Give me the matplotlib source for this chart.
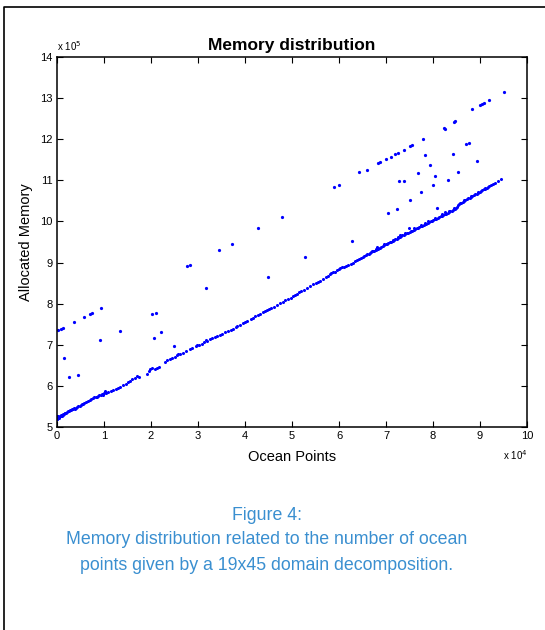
import numpy as np
import matplotlib.pyplot as plt
from matplotlib.lines import Line2D

plt.rcParams['font.family'] = ['Liberation Sans', 'DejaVu Sans']

# ocean points in units of 1e4, allocated memory in units of 1e5
low_x = [0.00, 0.00, 0.00, 0.01, 0.01, 0.02, 0.03, 0.04, 0.05, 0.06, 0.08, 0.09, 0.10, 0.12, 0.13,
         0.15, 0.17, 0.18, 0.20, 0.22, 0.24, 0.26, 0.28, 0.30, 0.32, 0.34, 0.36, 0.38, 0.40,
         0.43, 0.45, 0.48, 0.50, 0.53, 0.56, 0.58,
         0.62, 0.66, 0.70, 0.73, 0.76, 0.79, 0.82, 0.85, 0.88, 0.90, 0.93, 0.95, 0.97, 1.00,
         1.02, 1.03, 1.05, 1.08,
         1.14, 1.20, 1.25, 1.30, 1.34, 1.40, 1.46, 1.52, 1.55, 1.60, 1.66, 1.70, 1.75, 1.92,
         1.95, 1.98, 2.03, 2.08, 2.12, 2.16, 2.30, 2.35, 2.40, 2.45, 2.50, 2.55, 2.58, 2.62,
         2.68, 2.75, 2.82, 2.88, 2.95, 2.98, 3.02, 3.08, 3.12, 3.17, 3.20, 3.26, 3.30, 3.36,
         3.41, 3.46, 3.52, 3.58, 3.64, 3.70, 3.74, 3.80, 3.84, 3.90, 3.96, 4.00, 4.05, 4.12,
         4.17, 4.22, 4.27, 4.32, 4.38, 4.42, 4.46, 4.50, 4.56, 4.62, 4.68, 4.74, 4.80, 4.86,
         4.92, 4.97, 5.02, 5.06, 5.10, 5.15, 5.20, 5.26, 5.32, 5.38, 5.44, 5.50, 5.55, 5.60,
         5.66, 5.72, 5.76, 5.80, 5.84, 5.88, 5.92, 5.96, 6.00, 6.02, 6.06, 6.10, 6.15, 6.20,
         6.25, 6.30, 6.34, 6.38, 6.42, 6.46, 6.50, 6.80, 6.84, 6.78,
         6.54, 6.57, 6.60, 6.63, 6.66, 6.69, 6.72, 6.75, 6.78, 6.81, 6.84, 6.87, 6.90, 6.93,
         6.96, 6.99, 7.02, 7.05, 7.08, 7.11, 7.14, 7.17, 7.20, 7.23, 7.26, 7.29, 7.32, 7.35,
         7.38, 7.41, 7.44, 7.47, 7.50, 7.53, 7.56, 7.59, 7.62, 7.65, 7.68, 7.71, 7.74, 7.77,
         7.80, 7.83, 7.86, 7.89, 7.92, 7.95, 7.98, 8.01, 8.04, 8.07, 8.10, 8.13, 8.16, 8.19,
         8.22, 8.25, 8.28, 8.31, 8.34, 8.37, 8.40, 8.43, 8.46, 8.49, 8.51, 8.53, 8.55, 8.57,
         8.60, 8.63, 8.66, 8.69, 8.72, 8.75, 8.78, 8.81, 8.84, 8.87, 8.90, 8.93, 8.96, 8.99,
         9.02, 9.05, 9.08, 9.11, 9.14, 9.17, 9.20, 9.24, 9.28, 9.32, 9.38, 9.45,
         6.70, 6.95, 7.15, 7.25, 7.40, 7.60, 7.75, 7.90, 8.05, 8.20, 8.35, 8.45, 8.65, 8.80,
         8.95, 9.10, 7.48, 7.83, 8.26, 7.30]
low_y = [5.21, 5.19, 5.27, 5.24, 5.20, 5.22, 5.26, 5.23, 5.25, 5.27, 5.26, 5.29, 5.28, 5.30, 5.31,
         5.32, 5.33, 5.35, 5.34, 5.36, 5.38, 5.39, 5.41, 5.42, 5.43, 5.44, 5.46, 5.45, 5.47,
         5.49, 5.50, 5.51, 5.53, 5.55, 5.57, 5.58,
         5.60, 5.63, 5.65, 5.67, 5.70, 5.72, 5.73, 5.74, 5.76, 5.77, 5.78, 5.80, 5.79, 5.82,
         5.84, 5.87, 5.82, 5.85,
         5.87, 5.90, 5.93, 5.96, 5.98, 6.02, 6.05, 6.10, 6.12, 6.17, 6.20, 6.25, 6.22, 6.30,
         6.37, 6.40, 6.44, 6.42, 6.43, 6.46, 6.58, 6.62, 6.66, 6.69, 6.71, 6.74, 6.78, 6.77,
         6.81, 6.86, 6.89, 6.93, 6.96, 6.99, 7.00, 7.03, 7.06, 7.12, 7.10, 7.13, 7.16, 7.19,
         7.21, 7.24, 7.27, 7.31, 7.34, 7.37, 7.39, 7.44, 7.46, 7.48, 7.54, 7.56, 7.59, 7.62,
         7.66, 7.70, 7.73, 7.75, 7.80, 7.82, 7.84, 7.86, 7.89, 7.93, 7.97, 8.01, 8.04, 8.08,
         8.11, 8.13, 8.18, 8.20, 8.24, 8.28, 8.31, 8.34, 8.38, 8.42, 8.47, 8.50, 8.53, 8.56,
         8.61, 8.65, 8.68, 8.71, 8.74, 8.77, 8.78, 8.82, 8.84, 8.87, 8.89, 8.90, 8.92, 8.95,
         8.97, 9.00, 9.03, 9.06, 9.08, 9.11, 9.14, 9.38, 9.36, 9.33,
         9.17, 9.18, 9.20, 9.22, 9.24, 9.25, 9.27, 9.29, 9.31, 9.33, 9.34, 9.36, 9.38, 9.40,
         9.42, 9.44, 9.46, 9.48, 9.49, 9.51, 9.53, 9.55, 9.57, 9.58, 9.60, 9.62, 9.64, 9.66,
         9.67, 9.69, 9.71, 9.73, 9.75, 9.76, 9.78, 9.80, 9.82, 9.83, 9.85, 9.87, 9.88, 9.90,
         9.92, 9.94, 9.95, 9.97, 9.99, 10.01, 10.02, 10.04, 10.06, 10.07, 10.09, 10.11, 10.13, 10.14,
         10.16, 10.18, 10.19, 10.21, 10.23, 10.25, 10.26, 10.28, 10.30, 10.32, 10.35, 10.39, 10.42, 10.44,
         10.46, 10.48, 10.50, 10.52, 10.54, 10.56, 10.58, 10.60, 10.62, 10.64, 10.66, 10.68, 10.70, 10.72,
         10.74, 10.76, 10.78, 10.80, 10.82, 10.84, 10.86, 10.88, 10.91, 10.94, 10.98, 11.03,
         9.28, 9.45, 9.56, 9.63, 9.72, 9.83, 9.92, 10.01, 10.09, 10.18, 10.26, 10.33, 10.52, 10.62,
         10.72, 10.82, 9.83, 9.97, 10.24, 9.67]

up_x = [0.03, 0.08, 0.13, 0.36, 0.57, 0.70, 0.74, 0.93, 0.91, 0.15, 0.26, 0.45, 1.35, 2.02,
        2.11, 2.07, 2.22, 2.49, 2.77, 2.82, 3.17, 3.44, 3.72, 4.28, 4.49, 4.78, 5.28, 6.27,
        5.90, 5.99, 6.43, 6.60, 6.84, 6.87, 7.01, 7.11, 7.19, 7.26, 7.38, 7.51, 7.56, 7.79,
        7.82, 7.69, 7.27, 7.39, 7.94, 8.05, 8.01, 7.74, 7.52, 7.23, 7.05, 8.08, 8.23, 8.26,
        8.44, 8.47, 8.42, 8.32, 8.53, 8.71, 8.76, 8.93, 8.84, 8.99, 9.04, 9.09, 9.19, 9.52]
up_y = [7.36, 7.38, 7.40, 7.55, 7.67, 7.75, 7.78, 7.89, 7.11, 6.69, 6.22, 6.26, 7.33, 7.75,
        7.77, 7.17, 7.30, 6.97, 8.91, 8.93, 8.38, 9.31, 9.46, 9.85, 8.64, 10.12, 9.14, 9.52,
        10.83, 10.88, 11.20, 11.26, 11.42, 11.44, 11.53, 11.58, 11.63, 11.67, 11.75, 11.84, 11.86, 12.01,
        11.62, 11.17, 10.99, 10.99, 11.37, 11.11, 10.88, 10.72, 10.51, 10.31, 10.20, 10.32, 12.27, 12.25,
        12.41, 12.44, 11.63, 11.00, 11.21, 11.89, 11.92, 11.46, 12.74, 12.83, 12.86, 12.89, 12.96, 13.16]

caption = ["Figure 4:",
           "Memory distribution related to the number of ocean",
           "points given by a 19x45 domain decomposition."]

fig = plt.figure(figsize=(5.45, 6.30), dpi=100)
ax = fig.add_axes([0.1046, 0.3222, 0.8624, 0.5873])

ax.plot(low_x, low_y, ls='none', marker='.', ms=2.4, color='#0000ff')
ax.plot(up_x, up_y, ls='none', marker='.', ms=2.6, color='#0000ff')

ax.set_xlim(0, 10)
ax.set_ylim(5, 14)
ax.set_xticks(range(0, 11))
ax.set_yticks(range(5, 15))
ax.tick_params(direction='in', top=True, right=True, length=4, width=0.8,
               labelsize=8, pad=3)
for s in ax.spines.values():
    s.set_linewidth(1.1)

ax.set_title("Memory distribution", fontsize=12.5, fontweight='bold', pad=5)
ax.set_xlabel("Ocean Points", fontsize=10.5, labelpad=6)
ax.set_ylabel("Allocated Memory", fontsize=10.5, labelpad=5)
ax.text(0.0, 1.012, "x 10$^{5}$", transform=ax.transAxes, fontsize=7,
        ha='left', va='bottom')
ax.text(1.0, -0.058, "x 10$^{4}$", transform=ax.transAxes, fontsize=7,
        ha='right', va='top')

cap_y = [516, 540, 565]
for line, y in zip(caption, cap_y):
    fig.text(266.5 / 545, 1 - y / 630, line, fontsize=12.8, color='#3a8fd0',
             ha='center', va='center')

# page frame (top and left edges)
fig.add_artist(Line2D([3.5 / 545, 3.5 / 545, 1.0], [0.0, 1 - 7 / 630, 1 - 7 / 630],
                      transform=fig.transFigure, color='black', lw=1.2))

fig.savefig("out.png", dpi=100)
